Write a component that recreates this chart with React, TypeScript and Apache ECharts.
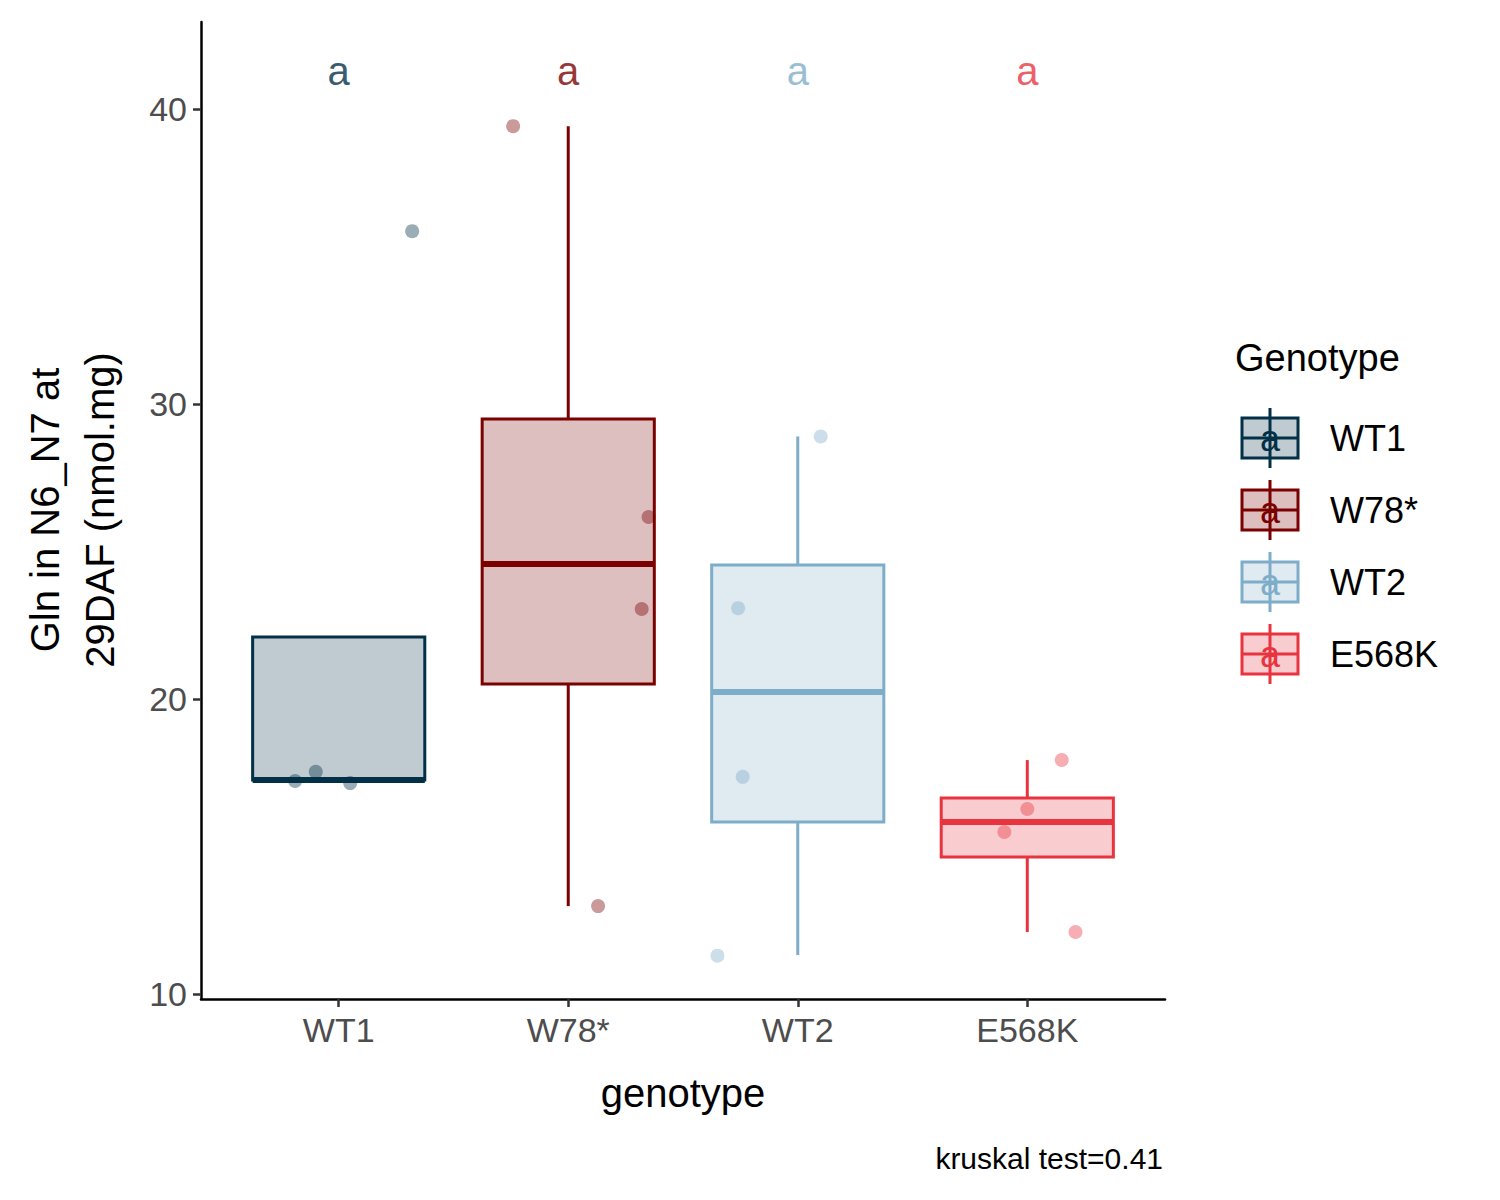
import { useRef, useEffect } from 'react'
import * as echarts from 'echarts'

const categories = ['WT1', 'W78*', 'WT2', 'E568K']
const colors = ['#023047', '#7b0000', '#7eadc9', '#e8343f']
// [low, q1, median, q3, high]
const boxStats = [
  [17.25, 17.25, 17.25, 22.1, 22.1],
  [12.98, 20.51, 24.58, 29.49, 39.42],
  [11.32, 15.83, 20.24, 24.54, 28.9],
  [12.1, 14.64, 15.83, 16.64, 17.93],
]
// jittered points: [x offset, value]
const points = [
  [[0.32, 35.86], [-0.10, 17.53], [-0.19, 17.22], [0.05, 17.15]],
  [[-0.24, 39.42], [0.35, 26.17], [0.32, 23.05], [0.13, 12.98]],
  [[0.10, 28.9], [-0.26, 23.08], [-0.24, 17.36], [-0.35, 11.3]],
  [[0.15, 17.93], [0.0, 16.27], [-0.10, 15.49], [0.21, 12.1]],
]
const letters = ['a', 'a', 'a', 'a']
const yTicks = [10, 20, 30, 40]

function hexA(hex: string, a: number) {
  const n = parseInt(hex.slice(1), 16)
  return `rgba(${n >> 16},${(n >> 8) & 255},${n & 255},${a})`
}

function App() {
  const chartRef = useRef<HTMLDivElement>(null)

  useEffect(() => {
    if (!chartRef.current) return
    const chart = echarts.init(chartRef.current, null, { renderer: 'svg' })
    const font = 'Arial, "Liberation Sans", sans-serif'

    const legend: any[] = []
    categories.forEach((c, i) => {
      const cy = 438 + 72 * i
      const col = colors[i]
      legend.push(
        { type: 'line', shape: { x1: 1270, y1: cy - 30, x2: 1270, y2: cy + 30 }, style: { stroke: col, lineWidth: 3 } },
        { type: 'rect', shape: { x: 1242, y: cy - 20, width: 56, height: 40 }, style: { fill: hexA(col, 0.25), stroke: col, lineWidth: 3 } },
        { type: 'line', shape: { x1: 1242, y1: cy, x2: 1298, y2: cy }, style: { stroke: col, lineWidth: 3 } },
        { type: 'text', x: 1270, y: cy, style: { text: letters[i], fill: col, font: `36px ${font}`, align: 'center', verticalAlign: 'middle' } },
        { type: 'text', x: 1330, y: cy, style: { text: c, fill: '#000', font: `36px ${font}`, verticalAlign: 'middle' } },
      )
    })

    const option = {
      animation: false,
      grid: { left: 201, right: 335, top: 22, bottom: 201 },
      xAxis: {
        type: 'value', min: 0.4, max: 4.6,
        splitLine: { show: false },
        axisLine: { lineStyle: { color: '#000', width: 2.5 } },
        axisTick: { customValues: [1, 2, 3, 4], length: 8, lineStyle: { color: '#333', width: 2.5 } },
        axisLabel: {
          customValues: [1, 2, 3, 4], formatter: (v: number) => categories[Math.round(v) - 1] ?? '',
          color: '#4d4d4d', fontSize: 34, fontFamily: font, margin: 14,
        },
      },
      yAxis: {
        type: 'value', min: 9.83, max: 42.95,
        splitLine: { show: false },
        axisLine: { show: true, lineStyle: { color: '#000', width: 2.5 } },
        axisTick: { show: true, customValues: yTicks, length: 8, lineStyle: { color: '#333', width: 2.5 } },
        axisLabel: { customValues: yTicks, color: '#4d4d4d', fontSize: 34, fontFamily: font, margin: 14 },
      },
      graphic: [
        { type: 'text', x: 45, y: 510, rotation: Math.PI / 2, style: { text: 'Gln in N6_N7 at', fill: '#000', font: `40px ${font}`, align: 'center', verticalAlign: 'middle' } },
        { type: 'text', x: 100, y: 510, rotation: Math.PI / 2, style: { text: '29DAF (nmol.mg)', fill: '#000', font: `40px ${font}`, align: 'center', verticalAlign: 'middle' } },
        { type: 'text', x: 683, y: 1093, style: { text: 'genotype', fill: '#000', font: `40px ${font}`, align: 'center', verticalAlign: 'middle' } },
        { type: 'text', x: 1163, y: 1158, style: { text: 'kruskal test=0.41', fill: '#000', font: `30px ${font}`, align: 'right', verticalAlign: 'middle' } },
        { type: 'text', x: 1235, y: 358, style: { text: 'Genotype', fill: '#000', font: `38px ${font}`, verticalAlign: 'middle' } },
        ...legend,
      ],
      series: [
        {
          type: 'custom',
          data: boxStats.map((s, i) => [i + 1, ...s]),
          renderItem: (params: any, api: any) => {
            const i = params.dataIndex
            const x = api.value(0)
            const col = colors[i]
            const pt = (xx: number, v: number) => api.coord([xx, v])
            const [lo, q1, md, q3, hi] = [1, 2, 3, 4, 5].map((k) => api.value(k))
            const c = pt(x, 20)[0]
            const l = pt(x - 0.375, 20)[0]
            const r = pt(x + 0.375, 20)[0]
            const y = (v: number) => pt(x, v)[1]
            return {
              type: 'group',
              children: [
                { type: 'line', shape: { x1: c, y1: y(hi), x2: c, y2: y(q3) }, style: { stroke: col, lineWidth: 3 } },
                { type: 'line', shape: { x1: c, y1: y(q1), x2: c, y2: y(lo) }, style: { stroke: col, lineWidth: 3 } },
                { type: 'rect', shape: { x: l, y: y(q3), width: r - l, height: y(q1) - y(q3) }, style: { fill: hexA(col, 0.25), stroke: col, lineWidth: 3 } },
                { type: 'line', shape: { x1: l, y1: y(md), x2: r, y2: y(md) }, style: { stroke: col, lineWidth: 6 } },
              ],
            }
          },
        },
        ...points.map((ps, i) => ({
          type: 'scatter',
          symbolSize: 14,
          itemStyle: { color: hexA(colors[i], 0.5) },
          data: ps.map(([dx, v]) => [i + 1 + dx, v]),
        })),
        {
          type: 'scatter',
          symbolSize: 0,
          data: letters.map((t, i) => ({
            value: [i + 1, 41.3],
            label: { show: true, formatter: t, color: colors[i], fontSize: 40, fontFamily: font, position: 'inside' },
          })),
        },
      ],
    }
    chart.setOption(option)
    return () => chart.dispose()
  }, [])

  return <div ref={chartRef} style={{ position: 'absolute', left: 0, top: 0, width: '1500px', height: '1200px' }}></div>
}

export default App
